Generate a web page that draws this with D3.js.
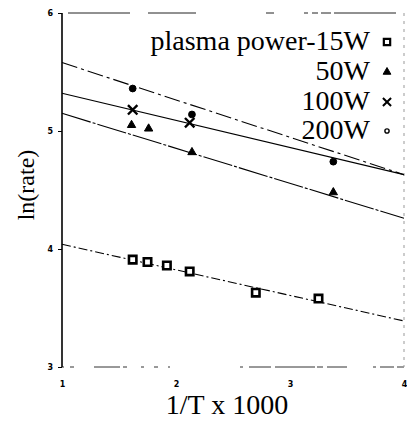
<!DOCTYPE html>
<html>
<head>
<meta charset="utf-8">
<script src="https://cdn.jsdelivr.net/npm/d3@7"></script>
<style>
  body { margin: 0; background: #fff; }
  svg { display: block; }
  .tick text { font-family: "DejaVu Sans", sans-serif; font-weight: bold; }
</style>
</head>
<body>
<div id="chart"></div>
<script>
// values
var xTicks = [1, 2, 3, 4];
var yTicks = [3, 4, 5, 6];
var seriesNames = ["plasma power-15W", "50W", "100W", "200W"];

var x15 = [1.62, 1.75, 1.92, 2.12, 2.70, 3.25];
var y15 = [3.91, 3.89, 3.86, 3.81, 3.63, 3.58];
var fit15 = [[1, 4.04], [4, 3.39]];

var x50 = [1.61, 1.76, 2.14, 3.38];
var y50 = [5.05, 5.02, 4.82, 4.48];
var fit50 = [[1, 5.15], [4, 4.26]];

var x100 = [1.62, 2.12];
var y100 = [5.18, 5.07];
var fit100 = [[1, 5.32], [4, 4.63]];

var x200 = [1.62, 2.14, 3.38];
var y200 = [5.36, 5.14, 4.74];
var fit200 = [[1, 5.58], [4, 4.63]];

//
// setup
//
var W = 407, H = 430;
var margin = {top: 13, right: 3, bottom: 63, left: 62},
    width = W - margin.left - margin.right,
    height = H - margin.top - margin.bottom;

var x = d3.scaleLinear().domain([1, 4]).range([0, width]);
var y = d3.scaleLinear().domain([3, 6]).range([height, 0]);

var svg = d3.select("#chart").append("svg")
    .attr("width", W).attr("height", H)
    .append("g")
    .attr("transform", "translate(" + margin.left + "," + margin.top + ")");

// frame: broken top / bottom / right borders like the scan
svg.append("line").attr("x1", 6).attr("x2", width).attr("y1", 0).attr("y2", 0)
  .attr("stroke", "#222").attr("stroke-width", 1)
  .attr("stroke-dasharray", "62,18,48,70,8,30,4,4,6,3,10,3");
svg.append("line").attr("x1", 0).attr("x2", width).attr("y1", height).attr("y2", height)
  .attr("stroke", "#333").attr("stroke-width", 1)
  .attr("stroke-dasharray", "2,6,4,20,26,3,4,14,3,10,4,10,2,70,3,6,22,4,40");
svg.append("line").attr("x1", width).attr("x2", width).attr("y1", 0).attr("y2", height)
  .attr("stroke", "#999").attr("stroke-width", 1)
  .attr("stroke-dasharray", "3,5");

// axes
var xAxis = svg.append("g")
    .attr("transform", "translate(0," + (height + 11) + ")")
    .call(d3.axisBottom(x).tickValues(xTicks).tickSize(0).tickPadding(3).tickFormat(d3.format("d")));
xAxis.select(".domain").remove();
xAxis.selectAll("text").attr("font-size", 8);

var yAxis = svg.append("g")
    .call(d3.axisLeft(y).tickValues(yTicks).tickSize(4).tickPadding(5).tickFormat(d3.format("d")));
yAxis.select(".domain").attr("stroke-width", 1.6).attr("d", "M0,0V" + height);
yAxis.selectAll("text").attr("font-size", 8);

// axis titles
svg.append("text")
  .attr("transform", "rotate(-90)")
  .attr("x", -(185 - margin.top))
  .attr("y", 26 - margin.left)
  .attr("dy", "0.35em")
  .style("text-anchor", "middle")
  .style("font-family", "'Liberation Serif', 'DejaVu Serif', serif")
  .style("font-size", "24px")
  .text("ln(rate)");

svg.append("text")
  .attr("x", 227 - margin.left)
  .attr("y", 414 - margin.top)
  .style("text-anchor", "middle")
  .style("font-family", "'Liberation Serif', 'DejaVu Serif', serif")
  .style("font-size", "28px")
  .text("1/T x 1000");

//
// fit lines
//
drawFit(fit15, "9,3,2,3", 1.1);
drawFit(fit50, "30,2,3,2", 1.1);
drawFit(fit100, null, 1.1);
drawFit(fit200, "16,4,3,4", 1.1);

//
// markers
//
drawPoints(x15, y15, d3.symbolSquare, 55, "#fff", 2.6);
drawPoints(x50, y50, d3.symbolTriangle, 30, "#000", 1);
drawPoints(x100, y100, d3.symbolTimes, 60, "none", 2.4);
drawPoints(x200, y200, d3.symbolCircle, 36, "#000", 1);

//
// legend
//
var legendY = [50, 80, 110, 139];
var legendSym = [d3.symbolSquare, d3.symbolTriangle, d3.symbolTimes, d3.symbolCircle];
var legendSize = [40, 26, 45, 14];
var legendFill = ["#fff", "#000", "none", "#fff"];
var legendStroke = [2.2, 1, 2, 1.4];
seriesNames.forEach(function(name, i){
  svg.append("text")
    .attr("x", 370 - margin.left)
    .attr("y", legendY[i] - margin.top)
    .style("text-anchor", "end")
    .style("font-family", "'Liberation Serif', 'DejaVu Serif', serif")
    .style("font-size", "28px")
    .text(name);
  svg.append("path")
    .attr("transform", "translate(" + (387 - margin.left) + "," + (legendY[i] - 8 - margin.top) + ")")
    .attr("d", d3.symbol().type(legendSym[i]).size(legendSize[i])())
    .attr("fill", legendFill[i])
    .attr("stroke", "#000")
    .attr("stroke-width", legendStroke[i]);
});

function drawFit(pts, dash, sw){
  var line = d3.line()
      .x(function(d){ return x(d[0]) })
      .y(function(d){ return y(d[1]) });
  svg.append("path")
    .datum(pts)
    .attr("d", line)
    .attr("fill", "none")
    .attr("stroke", "#000")
    .attr("stroke-width", sw)
    .attr("stroke-dasharray", dash);
}

function drawPoints(xs, ys, type, size, fill, sw){
  svg.selectAll(null)
    .data(xs)
    .enter().append("path")
    .attr("transform", function(d, i){ return "translate(" + x(d) + "," + y(ys[i]) + ")" })
    .attr("d", d3.symbol().type(type).size(size)())
    .attr("fill", fill)
    .attr("stroke", "#000")
    .attr("stroke-width", sw);
}
</script>
</body>
</html>
